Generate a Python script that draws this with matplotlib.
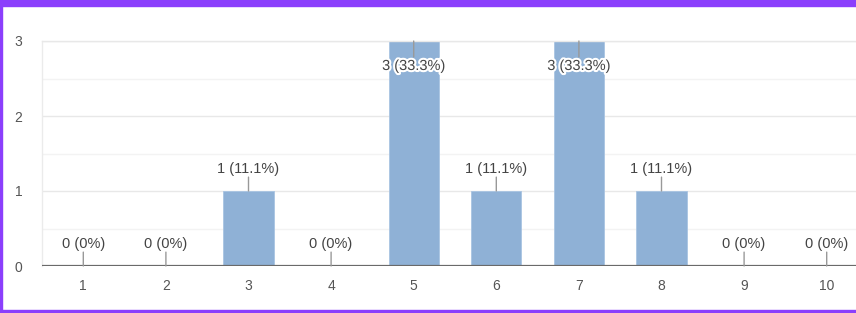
import matplotlib

matplotlib.use("Agg")
import matplotlib.pyplot as plt
import matplotlib.patheffects as pe
from matplotlib.patches import Rectangle

categories = [1, 2, 3, 4, 5, 6, 7, 8, 9, 10]
counts = [0, 0, 1, 0, 3, 1, 3, 1, 0, 0]
labels = ["0 (0%)", "0 (0%)", "1 (11.1%)", "0 (0%)", "3 (33.3%)",
          "1 (11.1%)", "3 (33.3%)", "1 (11.1%)", "0 (0%)", "0 (0%)"]
y_ticks = [0, 1, 2, 3]

plt.rcParams["font.family"] = ["Liberation Sans", "DejaVu Sans"]

fig = plt.figure(figsize=(8.56, 3.13), dpi=100)
W, H = 856, 313
ax = fig.add_axes([42 / W, 47 / H, 826 / W, 225 / H])

# grid: integer lines plus lighter half steps
for v in [0.5, 1.5, 2.5]:
    ax.axhline(v, color="#f3f3f3", lw=1, zorder=0)
for v in [1, 2, 3]:
    ax.axhline(v, color="#e8e8e8", lw=1, zorder=0)

ax.bar(categories, counts, width=0.61, color="#8fb1d6",
       edgecolor="#a9c4e2", linewidth=0.6, zorder=2)
ax.axhline(0, color="#6a6a6a", lw=1.6, zorder=3)

halo = [pe.withStroke(linewidth=3, foreground="white")]
top = max(counts)
for x, c, lab in zip(categories, counts, labels):
    if c == top:
        # label tucked inside the bar, leader pointing down from the top
        ax.annotate("", xy=(x, c), xytext=(0, -11.5), textcoords="offset points",
                    arrowprops=dict(arrowstyle="-", color="#999999", lw=1,
                                    shrinkA=0, shrinkB=0), zorder=4)
        ax.annotate(lab, xy=(x, c), xytext=(0, -18), textcoords="offset points",
                    ha="center", va="center", fontsize=10.5, color="#444444",
                    path_effects=halo, zorder=5)
    else:
        ax.annotate("", xy=(x, c), xytext=(0, 10), textcoords="offset points",
                    arrowprops=dict(arrowstyle="-", color="#999999", lw=1,
                                    shrinkA=0, shrinkB=0), zorder=4)
        ax.annotate(lab, xy=(x, c), xytext=(0, 15.5), textcoords="offset points",
                    ha="center", va="center", fontsize=10.5, color="#444444",
                    zorder=5)

ax.set_xlim(0.5, 10.5)
ax.set_ylim(0, 3)
ax.set_xticks(categories)
ax.set_xticklabels([str(c) for c in categories])
ax.set_yticks(y_ticks)
ax.tick_params(axis="both", length=0, labelsize=10, labelcolor="#555555")
ax.tick_params(axis="y", pad=14)
ax.tick_params(axis="x", pad=9)
for s in ["right", "bottom"]:
    ax.spines[s].set_visible(False)
ax.spines["top"].set_color("#e8e8e8")
ax.spines["left"].set_color("#ebebeb")
ax.spines["top"].set_linewidth(1)
ax.spines["left"].set_linewidth(1)

# purple frame around the screenshot
purple = "#8b3ffc"
fig.patches.append(Rectangle((0, 1 - 6 / H), 1, 6 / H, transform=fig.transFigure,
                             color=purple, zorder=10))
fig.patches.append(Rectangle((0, 0), 2 / W, 1, transform=fig.transFigure,
                             color=purple, zorder=10))
fig.patches.append(Rectangle((0, 0), 1, 3 / H, transform=fig.transFigure,
                             color=purple, zorder=10))

fig.savefig("out.png", dpi=100)
